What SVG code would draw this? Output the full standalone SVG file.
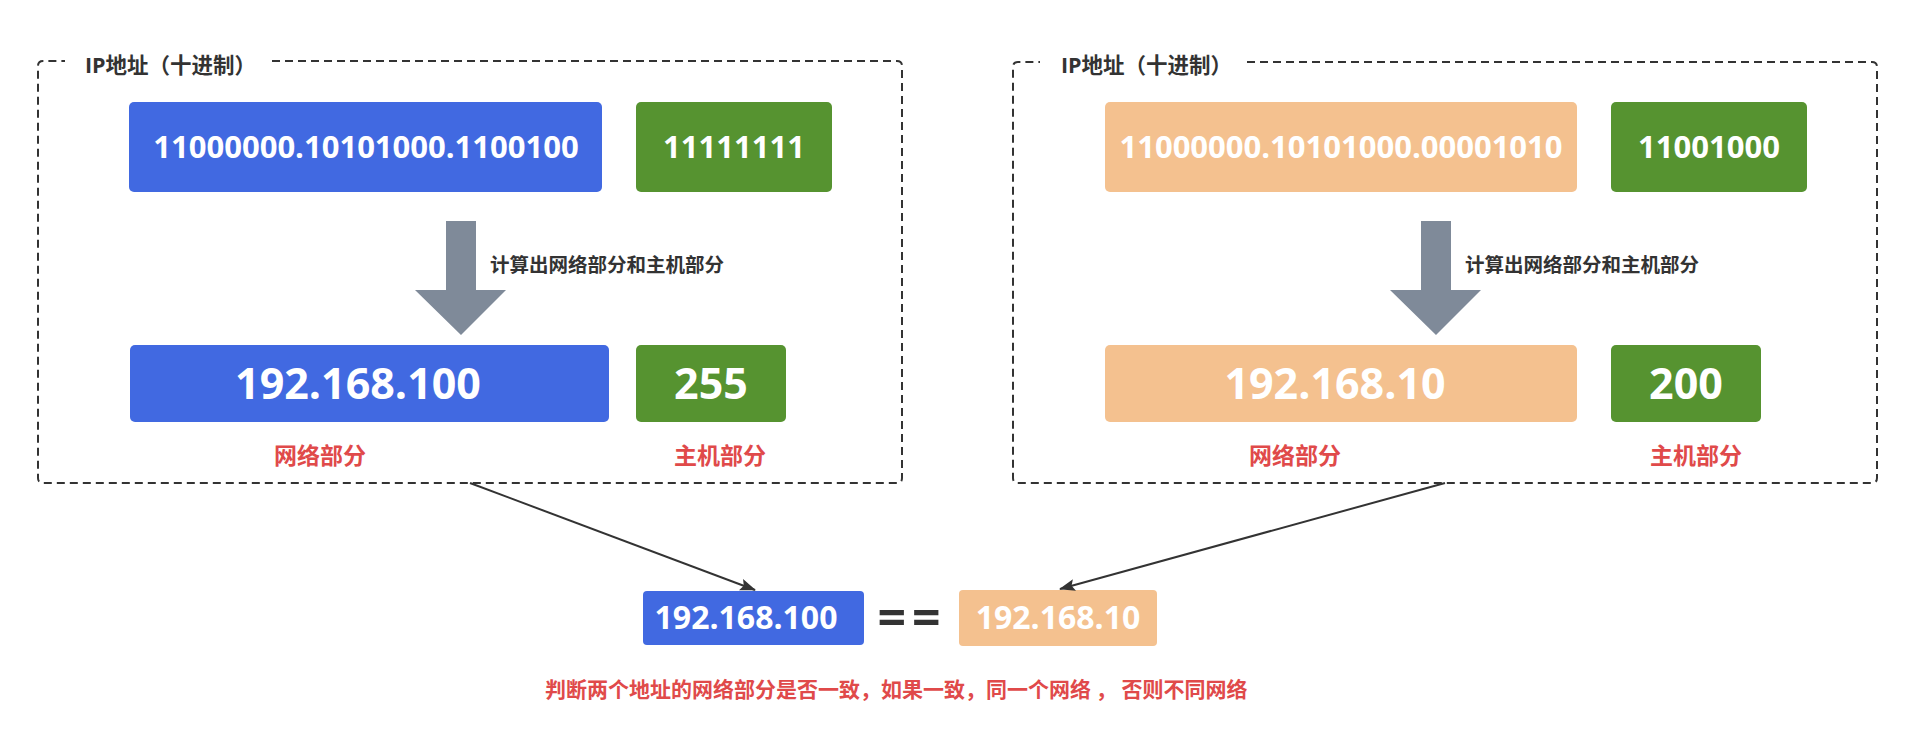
<svg xmlns="http://www.w3.org/2000/svg" width="1920" height="755" viewBox="0 0 1920 755">
<defs>
<marker id="ah" markerWidth="16" markerHeight="12" refX="15" refY="6" orient="auto" markerUnits="userSpaceOnUse">
<path d="M0,0 L16,6 L0,12 L3,6 Z" fill="#333333"/>
</marker>
<style>
.frame{fill:none;stroke:#333333;stroke-width:2;stroke-dasharray:8 5}
.title{font-family:"Open Sans","Noto Sans CJK SC",sans-serif;font-weight:bold;font-size:21.5px;fill:#333333}
.blue{fill:#4169E1}
.orange{fill:#F4C18F}
.green{fill:#569330}
.w30{font-family:"Open Sans","Noto Sans CJK SC",sans-serif;font-weight:bold;font-size:31px;fill:#ffffff;text-anchor:middle}
.w43{font-family:"Open Sans","Noto Sans CJK SC",sans-serif;font-weight:bold;font-size:43px;fill:#ffffff;text-anchor:middle}
.w32{font-family:"Open Sans","Noto Sans CJK SC",sans-serif;font-weight:bold;font-size:32px;fill:#ffffff;text-anchor:middle}
.red{font-family:"Noto Sans CJK SC",sans-serif;font-weight:bold;font-size:23px;fill:#E04A4A;text-anchor:middle}
.redb{font-family:"Noto Sans CJK SC",sans-serif;font-weight:bold;font-size:21px;fill:#E04A4A}
.lbl{font-family:"Noto Sans CJK SC",sans-serif;font-weight:bold;font-size:19.5px;fill:#333333}
.garrow{fill:#7F8A99}
.conn{fill:none;stroke:#333333;stroke-width:2}
</style>
</defs>
<rect width="1920" height="755" fill="#ffffff"/>

<g id="box-left">
<path class="frame" d="M272,61 H897 Q902,61 902,66 V478 Q902,483 897,483 H43 Q38,483 38,478 V66 Q38,61 43,61 H65"/>
<text class="title" x="85" y="73">IP地址（十进制）</text>
</g>
<g id="box-right">
<path class="frame" d="M1247,62 H1872 Q1877,62 1877,67 V478 Q1877,483 1872,483 H1018 Q1013,483 1013,478 V67 Q1013,62 1018,62 H1040"/>
<text class="title" x="1061" y="73">IP地址（十进制）</text>
</g>

<g id="left-bin-net">
<rect class="blue" x="129" y="102" width="473" height="90" rx="5"/>
<text class="w30" x="366" y="158">11000000.10101000.1100100</text>
</g>
<g id="left-bin-host">
<rect class="green" x="636" y="102" width="196" height="90" rx="5"/>
<text class="w30" x="734" y="158">11111111</text>
</g>
<g id="left-calc">
<polygon class="garrow" points="446,221 476,221 476,290 506,290 461,335 415,290 446,290"/>
<text class="lbl" x="490" y="272">计算出网络部分和主机部分</text>
</g>
<g id="left-dec-net">
<rect class="blue" x="130" y="345" width="479" height="77" rx="5"/>
<text class="w43" x="358" y="399">192.168.100</text>
<text class="red" x="320" y="464">网络部分</text>
</g>
<g id="left-dec-host">
<rect class="green" x="636" y="345" width="150" height="77" rx="5"/>
<text class="w43" x="711" y="399">255</text>
<text class="red" x="720" y="464">主机部分</text>
</g>

<g id="right-bin-net">
<rect class="orange" x="1105" y="102" width="472" height="90" rx="5"/>
<text class="w30" x="1341" y="158">11000000.10101000.00001010</text>
</g>
<g id="right-bin-host">
<rect class="green" x="1611" y="102" width="196" height="90" rx="5"/>
<text class="w30" x="1709" y="158">11001000</text>
</g>
<g id="right-calc">
<polygon class="garrow" points="1421,221 1451,221 1451,290 1481,290 1436,335 1390,290 1421,290"/>
<text class="lbl" x="1465" y="272">计算出网络部分和主机部分</text>
</g>
<g id="right-dec-net">
<rect class="orange" x="1105" y="345" width="472" height="77" rx="5"/>
<text class="w43" x="1335" y="399">192.168.10</text>
<text class="red" x="1295" y="464">网络部分</text>
</g>
<g id="right-dec-host">
<rect class="green" x="1611" y="345" width="150" height="77" rx="5"/>
<text class="w43" x="1686" y="399">200</text>
<text class="red" x="1696" y="464">主机部分</text>
</g>

<g id="cmp-left">
<rect class="blue" x="643" y="591" width="221" height="54" rx="4"/>
<text class="w32" x="746" y="629">192.168.100</text>
</g>
<g id="cmp-eq">
<text x="912" y="635" font-family="'Open Sans',sans-serif" font-weight="bold" font-size="50" fill="#333333" text-anchor="middle" letter-spacing="6">==</text>
</g>
<g id="cmp-right">
<rect class="orange" x="959" y="590" width="198" height="56" rx="4"/>
<text class="w32" x="1058" y="629">192.168.10</text>
</g>
<g id="note">
<text class="redb" x="545" y="697">判断两个地址的网络部分是否一致，如果一致，同一个网络 ， 否则不同网络</text>
</g>

<g id="connectors">
<line class="conn" x1="470" y1="483" x2="755" y2="590" marker-end="url(#ah)"/>
<line class="conn" x1="1445" y1="483" x2="1060" y2="589" marker-end="url(#ah)"/>
</g>
</svg>
